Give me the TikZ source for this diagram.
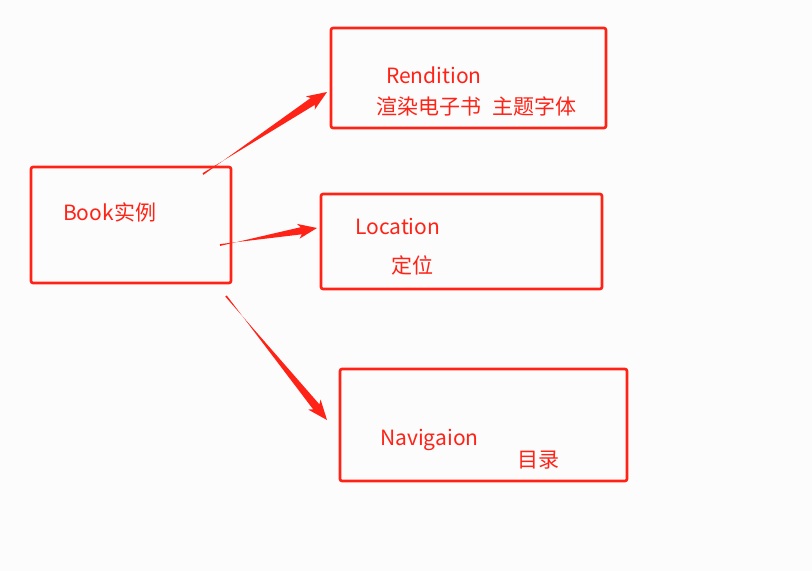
\documentclass[tikz,border=0pt]{standalone}
\usepackage{fontspec}
\newfontfamily\cjk{Noto Sans CJK SC}
\usetikzlibrary{calc}
\definecolor{boxred}{HTML}{FF2216}
\definecolor{bgc}{HTML}{FCFCFC}
\tikzset{
  box/.style={draw=boxred, line width=2.6pt, rounded corners=2pt},
  lbl/.style={anchor=west, inner sep=0pt, text=boxred, font=\cjk\fontsize{21}{24}\selectfont},
}
\newcommand{\taperarrow}[5]{% start, end, headlen, halfwidth, shafthalf
  \coordinate (#1h) at ($(#2)!#3!(#1)$);
  \coordinate (#1w) at ($(#2)!#3+3pt!(#1)$);
  \fill[boxred] ($(#1)!0.9pt!90:(#2)$) -- ($(#1h)!#5!-90:(#2)$) -- ($(#1w)!#4!-90:(#2)$) -- (#2)
     -- ($(#1w)!#4!90:(#2)$) -- ($(#1h)!#5!90:(#2)$) -- ($(#1)!0.9pt!-90:(#2)$) -- cycle;
}
\begin{document}
\begin{tikzpicture}[x=1pt,y=-1pt]
\fill[bgc] (0,0) rectangle (812,571);
\useasboundingbox (0,0) rectangle (812,571);
% boxes
\draw[box] (31,167) rectangle (231,283);
\draw[box] (331,28) rectangle (606,128);
\draw[box] (321,194) rectangle (602,289);
\draw[box] (340,369) rectangle (627,481);
% labels
\node[lbl] (book) at (63,212) {Book实例};
\node[lbl] (rend) at (386,75) {Rendition};
\node[lbl] (rendsub) at (376,106) {渲染电子书\hspace{0.55em}主题字体};
\node[lbl] (loc) at (355,226) {Location};
\node[lbl] (locsub) at (391,265) {定位};
\node[lbl] (nav) at (380,439.5) {Navigaion};
\node[lbl] (navsub) at (517,460) {目录};
% arrows
\coordinate (a1s) at (203,174);
\coordinate (a1e) at (327,92);
\coordinate (a2s) at (220,245);
\coordinate (a2e) at (317,228);
\coordinate (a3s) at (226,296);
\coordinate (a3e) at (327,420);
\taperarrow{a1s}{a1e}{17pt}{8pt}{4pt}
\taperarrow{a2s}{a2e}{16pt}{7.5pt}{3.6pt}
\taperarrow{a3s}{a3e}{17pt}{8pt}{4pt}
\end{tikzpicture}
\end{document}
